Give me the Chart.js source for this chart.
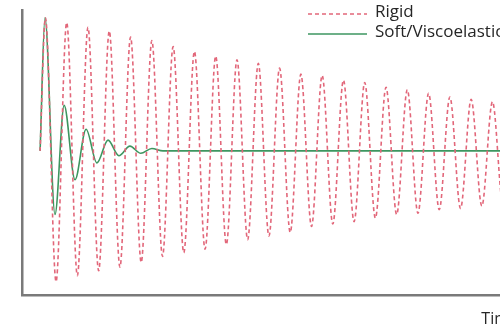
<!DOCTYPE html>
<html>
<head>
<meta charset="utf-8">
<script src="https://cdn.jsdelivr.net/npm/chart.js@4/dist/chart.umd.min.js"></script>
<style>
  html, body { margin: 0; padding: 0; background: #fff; overflow: hidden; }
  #wrap { width: 526px; height: 330px; }
</style>
</head>
<body>
<div id="wrap"><canvas id="grafico"></canvas></div>
<script>
// dados ----------------------------------------------
// tempo (periodo = 1) e deslocamento, picos e vales
var tempoRigido = [0, 0.25, 0.75, 1.25, 1.75, 2.25, 2.75, 3.25, 3.75, 4.25, 4.75,
  5.25, 5.75, 6.25, 6.75, 7.25, 7.75, 8.25, 8.75, 9.25, 9.75, 10.25, 10.75,
  11.25, 11.75, 12.25, 12.75, 13.25, 13.75, 14.25, 14.75, 15.25, 15.75,
  16.25, 16.75, 17.25, 17.75, 18.25, 18.75, 19.25, 19.75, 20.25, 20.75,
  21.25, 21.75, 22.25, 22.75];
var rigido = [0, 1.11, -1.09, 1.07, -1.04, 1.03, -1.0, 1.0, -0.97, 0.95, -0.93,
  0.92, -0.88, 0.87, -0.85, 0.83, -0.82, 0.79, -0.78, 0.76, -0.74, 0.73, -0.71,
  0.69, -0.68, 0.64, -0.63, 0.63, -0.61, 0.59, -0.59, 0.57, -0.56,
  0.53, -0.53, 0.51, -0.52, 0.48, -0.49, 0.45, -0.48, 0.43, -0.46,
  0.41, -0.45, 0.40, -0.44];

var tempoMacio = [0, 0.23, 0.70, 1.13, 1.64, 2.16, 2.67, 3.19, 3.70, 4.22, 4.73, 5.25, 5.77, 23];
var macio = [0, 1.11, -0.53, 0.38, -0.24, 0.18, -0.10, 0.09, -0.04, 0.04, -0.02, 0.02, 0, 0];

var rotulos = ["Rigid", "Soft/Viscoelastic"];
var tituloX = "Time";

function pontos(xs, ys) {
  return xs.map(function (x, i) { return { x: x, y: ys[i] }; });
}

// legenda dentro da area do grafico ------------------
var legendaInterna = {
  id: "legendaInterna",
  afterDraw: function (chart) {
    var ctx = chart.ctx;
    ctx.save();
    ctx.font = "17px 'Open Sans', sans-serif";
    ctx.textBaseline = "middle";
    chart.data.datasets.forEach(function (ds, i) {
      var y = 12 + i * 20;
      ctx.strokeStyle = ds.borderColor;
      ctx.lineWidth = 1.5;
      ctx.setLineDash(ds.borderDash || []);
      ctx.beginPath();
      ctx.moveTo(308, y + 2);
      ctx.lineTo(367, y + 2);
      ctx.stroke();
      ctx.setLineDash([]);
      ctx.fillStyle = "#262626";
      ctx.fillText(ds.label, 375, y);
    });
    ctx.restore();
  }
};

var ctx = document.getElementById("grafico");

new Chart(ctx, {
  type: "line",
  data: {
    datasets: [
      {
        label: rotulos[0],
        data: pontos(tempoRigido, rigido),
        borderColor: "#e2677a",
        borderWidth: 1.6,
        borderDash: [4, 3],
        cubicInterpolationMode: "monotone"
      },
      {
        label: rotulos[1],
        data: pontos(tempoMacio, macio),
        borderColor: "#3d9660",
        borderWidth: 1.6,
        cubicInterpolationMode: "monotone"
      }
    ]
  },
  options: {
    responsive: true,
    maintainAspectRatio: false,
    animation: false,
    layout: { padding: { left: 22, top: 10, right: 8, bottom: 0 } },
    elements: { point: { radius: 0 } },
    plugins: {
      legend: { display: false },
      tooltip: { enabled: false }
    },
    scales: {
      x: {
        type: "linear",
        min: -0.85,
        max: 22.45,
        ticks: { display: false },
        grid: { display: false, drawTicks: false },
        border: { color: "#7a7a7a", width: 2.5 },
        title: {
          display: true,
          text: tituloX,
          align: "end",
          color: "#262626",
          font: { family: "'Open Sans', sans-serif", size: 16 },
          padding: { top: 15, bottom: 1 }
        }
      },
      y: {
        min: -1.2,
        max: 1.175,
        ticks: { display: false },
        grid: { display: false, drawTicks: false },
        border: { color: "#7a7a7a", width: 2.5 }
      }
    }
  },
  plugins: [legendaInterna]
});
</script>
</body>
</html>
